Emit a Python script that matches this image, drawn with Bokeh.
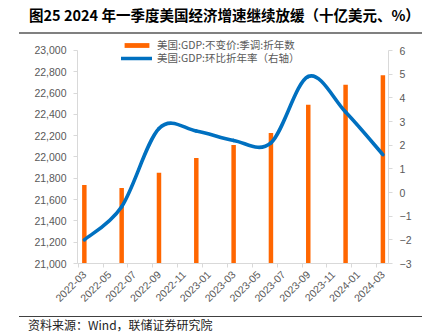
import math
from bokeh.plotting import figure
from bokeh.layouts import column
from bokeh.models import (Range1d, LinearAxis, FixedTicker, SingleIntervalTicker,
                          NumeralTickFormatter, Legend, LegendItem,
                          ColumnDataSource, Div)
from bokeh.embed import file_html
from bokeh.resources import INLINE

# ---------------- data ----------------
quarters = ["2022-03", "2022-06", "2022-09", "2022-12", "2023-03",
            "2023-06", "2023-09", "2023-12", "2024-03"]
gdp_level = [21738, 21708, 21851, 21990, 22112, 22225, 22491, 22679, 22768]
gdp_qoq_ann = [-2.0, -0.6, 2.7, 2.6, 2.2, 2.1, 4.9, 3.4, 1.6]
x_tick_labels = ["2022-03", "2022-05", "2022-07", "2022-09", "2022-11",
                 "2023-01", "2023-03", "2023-05", "2023-07", "2023-09",
                 "2023-11", "2024-01", "2024-03"]
bar_label = "美国:GDP:不变价:季调:折年数"
line_label = "美国:GDP:环比折年率（右轴）"
title_text = "图25 2024 年一季度美国经济增速继续放缓（十亿美元、%）"
source_text = "资料来源：Wind，联储证券研究院"


def month_index(s):
    y, m = map(int, s.split("-"))
    return (y - 2022) * 12 + (m - 3)


qx = [month_index(q) for q in quarters]
tick_pos = [month_index(t) for t in x_tick_labels]

ORANGE = "#FF6600"
BLUE = "#0070C0"
AXIS_GRAY = "#D9D9D9"
LABEL_GRAY = "#595959"
CJK = "Noto Sans CJK SC"
LATIN = "Liberation Sans"
W = 432

# ---------------- title strip (HTML + inline svg rule) ----------------
TH = 35
title_div = Div(
    width=W, height=TH, margin=(0, 0, 0, 0),
    text=(f'<div style="position:relative;width:{W}px;height:{TH}px;">'
          f'<svg width="{W}" height="{TH}" style="position:absolute;left:0;top:0;">'
          f'<rect x="19" y="32" width="403" height="2" fill="#808080"></rect></svg>'
          f'<div style="position:absolute;left:29px;top:5px;white-space:nowrap;'
          f"font-family:'{CJK}';font-weight:bold;font-size:14.5px;"
          f'line-height:20px;color:#000;">{title_text}</div></div>'))

# ---------------- main chart ----------------
MH = 277          # main figure from y=35 to y=312; frame 35..263
p = figure(width=W, height=MH, output_backend="svg", toolbar_location=None,
           x_range=Range1d(-0.55, 24.45), y_range=Range1d(21000, 23140.8),
           min_border_left=77, min_border_right=44, min_border_top=0,
           min_border_bottom=49)
p.outline_line_color = None
p.grid.visible = False
p.background_fill_color = "white"
p.border_fill_color = "white"
p.extra_y_ranges = {"right": Range1d(-3, 6.634)}

src_bar = ColumnDataSource(dict(x=qx, top=gdp_level))
bars = p.vbar(x="x", top="top", bottom=21000, width=0.36, source=src_bar,
              fill_color=ORANGE, line_color=None)

# smooth (Excel-like) curve drawn as cubic bezier segments through the data points
n = len(qx)
pts = list(zip(qx, gdp_qoq_ann))
seg = dict(x0=[], y0=[], x1=[], y1=[], cx0=[], cy0=[], cx1=[], cy1=[])
for i in range(n - 1):
    p0 = pts[i - 1] if i > 0 else pts[i]
    p1 = pts[i]
    p2 = pts[i + 1]
    p3 = pts[i + 2] if i + 2 < n else pts[i + 1]
    seg["x0"].append(p1[0]); seg["y0"].append(p1[1])
    seg["x1"].append(p2[0]); seg["y1"].append(p2[1])
    seg["cx0"].append(p1[0] + (p2[0] - p0[0]) / 6.0)
    seg["cy0"].append(p1[1] + (p2[1] - p0[1]) / 6.0)
    seg["cx1"].append(p2[0] - (p3[0] - p1[0]) / 6.0)
    seg["cy1"].append(p2[1] - (p3[1] - p1[1]) / 6.0)
curve = p.bezier(x0="x0", y0="y0", x1="x1", y1="y1", cx0="cx0", cy0="cy0",
                 cx1="cx1", cy1="cy1", source=ColumnDataSource(seg),
                 line_color=BLUE, line_width=3.6, line_cap="round",
                 y_range_name="right")

xa = p.xaxis[0]
xa.ticker = FixedTicker(ticks=tick_pos,
                        minor_ticks=[t + 1.5 for t in range(-2, 24, 2)])
xa.major_label_overrides = {t: lab for t, lab in zip(tick_pos, x_tick_labels)}
xa.major_label_orientation = math.pi / 4
xa.major_tick_line_color = None
xa.minor_tick_line_color = AXIS_GRAY
xa.minor_tick_in = 0
xa.minor_tick_out = 4
xa.axis_line_color = AXIS_GRAY
xa.major_label_text_color = LABEL_GRAY
xa.major_label_text_font = LATIN
xa.major_label_text_font_size = "10.5px"
xa.major_label_standoff = 3

ya = p.yaxis[0]
ya.ticker = SingleIntervalTicker(interval=200)
ya.formatter = NumeralTickFormatter(format="0,0")
ya.bounds = (21000, 23000)
ya.axis_line_color = AXIS_GRAY
ya.major_tick_line_color = AXIS_GRAY
ya.major_tick_in = 0
ya.major_tick_out = 4
ya.minor_tick_line_color = None
ya.major_label_text_color = LABEL_GRAY
ya.major_label_text_font = LATIN
ya.major_label_text_font_size = "10.5px"
ya.major_label_standoff = 7

ra = LinearAxis(y_range_name="right", ticker=SingleIntervalTicker(interval=1),
                bounds=(-3, 6))
ra.axis_line_color = AXIS_GRAY
ra.major_tick_line_color = AXIS_GRAY
ra.major_tick_in = 0
ra.major_tick_out = 4
ra.minor_tick_line_color = None
ra.major_label_text_color = LABEL_GRAY
ra.major_label_text_font = LATIN
ra.major_label_text_font_size = "10.5px"
ra.major_label_standoff = 7
p.add_layout(ra, "right")


def one_item_legend(label, renderer, loc_y):
    return Legend(items=[LegendItem(label=label, renderers=[renderer])],
                  location=(44, loc_y), orientation="vertical",
                  padding=0, margin=0, spacing=0,
                  glyph_width=31, glyph_height=6, label_height=12,
                  label_standoff=5, border_line_color=None,
                  background_fill_alpha=0,
                  label_text_font=CJK, label_text_font_size="10.5px",
                  label_text_color=LABEL_GRAY)


p.add_layout(one_item_legend(bar_label, bars, 211))
p.add_layout(one_item_legend(line_label, curve, 198))

# ---------------- source strip (HTML + hr rule) ----------------
FH = 22
source_div = Div(
    width=W, height=FH, margin=(0, 0, 0, 0),
    text=(f'<div style="position:relative;width:{W}px;height:{FH}px;">'
          f'<hr style="position:absolute;left:19px;top:4px;width:403px;margin:0;'
          f'padding:0;height:0;border:none;border-top:1px solid #404040;">'
          f'<div style="position:absolute;left:28px;top:5px;white-space:nowrap;'
          f"font-family:'{CJK}';font-size:12px;line-height:16px;"
          f'color:#222;">{source_text}</div></div>'))

layout = column(title_div, p, source_div, spacing=0)
open("out.html", "w").write(file_html(layout, INLINE))
